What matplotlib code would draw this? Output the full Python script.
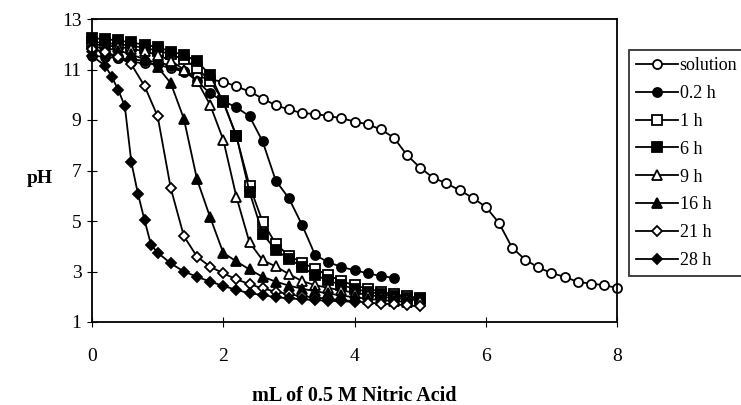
import numpy as np
import matplotlib
matplotlib.use("Agg")
import matplotlib.pyplot as plt

plt.rcParams['font.family'] = ['Liberation Serif', 'DejaVu Serif']

step = lambda n: [round(0.2 * i, 1) for i in range(n)]

x_solution = step(41)
y_solution = [11.85, 11.65, 11.45, 11.3, 11.25, 11.2, 11.05, 10.92, 10.75, 10.6,
              10.52, 10.33, 10.13, 9.85, 9.58, 9.42, 9.27, 9.24, 9.16, 9.07,
              8.94, 8.83, 8.63, 8.30, 7.61, 7.11, 6.71, 6.49, 6.22, 5.92,
              5.56, 4.93, 3.95, 3.47, 3.16, 2.94, 2.79, 2.59, 2.52, 2.46, 2.35]

x_02h = step(24)
y_02h = [11.55, 11.5, 11.45, 11.4, 11.35, 11.3, 11.15, 10.95, 10.55, 10.05,
         9.75, 9.5, 9.15, 8.15, 6.6, 5.9, 4.85, 3.65, 3.37, 3.18,
         3.05, 2.93, 2.82, 2.75]

x_1h = step(26)
y_1h = [12.1, 12.05, 12.0, 11.95, 11.85, 11.75, 11.6, 11.4, 11.05, 10.55,
        9.75, 8.35, 6.4, 4.97, 4.1, 3.62, 3.35, 3.1, 2.85, 2.62,
        2.45, 2.32, 2.2, 2.1, 2.02, 1.95]

x_6h = step(26)
y_6h = [12.24, 12.2, 12.15, 12.07, 11.98, 11.89, 11.71, 11.58, 11.32, 10.79,
        9.7, 8.38, 6.15, 4.5, 3.84, 3.51, 3.18, 2.85, 2.65, 2.46,
        2.32, 2.19, 2.12, 2.02, 1.97, 1.93]

x_9h = step(26)
y_9h = [12.0, 11.95, 11.9, 11.82, 11.72, 11.58, 11.35, 11.0, 10.55, 9.6,
        8.22, 5.96, 4.15, 3.45, 3.2, 2.9, 2.62, 2.46, 2.35, 2.25,
        2.16, 2.08, 2.0, 1.95, 1.9, 1.85]

x_16h = step(25)
y_16h = [11.9, 11.85, 11.75, 11.6, 11.4, 11.1, 10.46, 9.05, 6.65, 5.15,
         3.74, 3.4, 3.08, 2.79, 2.6, 2.44, 2.32, 2.22, 2.13, 2.05,
         1.98, 1.92, 1.87, 1.83, 1.8]

x_21h = step(26)
y_21h = [11.8, 11.7, 11.5, 11.2, 10.35, 9.15, 6.3, 4.4, 3.59, 3.19,
         2.93, 2.69, 2.5, 2.33, 2.2, 2.1, 2.02, 1.97, 1.92, 1.87,
         1.82, 1.77, 1.73, 1.7, 1.66, 1.62]

x_28h = [0, 0.2, 0.3, 0.4, 0.5, 0.6, 0.7, 0.8, 0.9, 1.0,
         1.2, 1.4, 1.6, 1.8, 2.0, 2.2, 2.4, 2.6, 2.8, 3.0,
         3.2, 3.4, 3.6, 3.8, 4.0]
y_28h = [11.54, 11.15, 10.72, 10.19, 9.55, 7.32, 6.08, 5.04, 4.05, 3.75,
         3.32, 3.0, 2.79, 2.6, 2.43, 2.27, 2.14, 2.07, 1.98, 1.94,
         1.9, 1.87, 1.84, 1.82, 1.8]

labels = ["solution", "0.2 h", "1 h", "6 h", "9 h", "16 h", "21 h", "28 h"]
xs = [x_solution, x_02h, x_1h, x_6h, x_9h, x_16h, x_21h, x_28h]
ys = [y_solution, y_02h, y_1h, y_6h, y_9h, y_16h, y_21h, y_28h]
markers = ['o', 'o', 's', 's', '^', '^', 'D', 'D']
filled = [False, True, False, True, False, True, False, True]
msizes = [6.5, 6.5, 6.5, 6.5, 6.5, 6.5, 5.5, 5.5]

fig = plt.figure(figsize=(7.41, 4.05), dpi=100)
ax = fig.add_axes([92/741, 1-322/405, (617-92)/741, (322-19)/405])

for x, y, m, f, lab, ms in zip(xs, ys, markers, filled, labels, msizes):
    ax.plot(x, y, color='black', lw=1.3, marker=m, ms=ms,
            mfc='black' if f else 'white', mec='black', mew=1.3,
            label=lab, clip_on=False)

ax.set_xlim(0, 8)
ax.set_ylim(1, 13)
ax.set_xticks([0, 2, 4, 6, 8])
ax.set_yticks([1, 3, 5, 7, 9, 11, 13])
ax.tick_params(axis='both', which='both', direction='inout', labelsize=14)
ax.tick_params(axis='x', pad=15, length=7)
ax.tick_params(axis='y', pad=4, length=7)
for s in ax.spines.values():
    s.set_linewidth(1.3)

ax.set_xlabel("mL of 0.5 M Nitric Acid", fontsize=14.5, fontweight='bold', labelpad=15)
fig.text(40/741, 1-178/405, "pH", fontsize=14, fontweight='bold', ha='center', va='center')

leg = ax.legend(loc='upper left', bbox_to_anchor=(629/741, 1-50/405),
                bbox_transform=fig.transFigure, fontsize=13, frameon=True,
                fancybox=False, edgecolor='black', handlelength=2.3,
                handletextpad=0.1, labelspacing=0.6, borderpad=0.4,
                borderaxespad=0)
leg.get_frame().set_linewidth(1.3)

fig.savefig("out.png", dpi=100)
